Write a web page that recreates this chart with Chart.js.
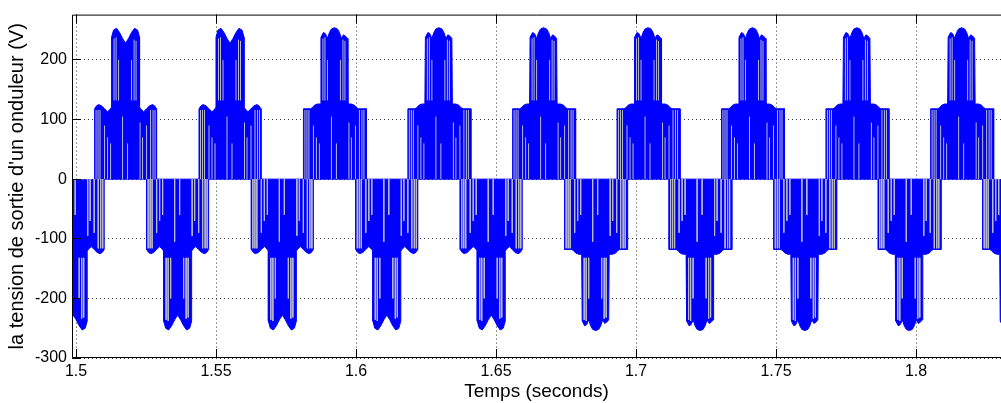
<!DOCTYPE html>
<html lang="fr">
<head>
  <meta charset="UTF-8">
  <title>Tension de sortie d'un onduleur</title>
  <script src="https://cdn.jsdelivr.net/npm/chart.js@4.4.1/dist/chart.umd.min.js"></script>
  <style>
    html, body { margin: 0; padding: 0; background: #fff; }
    canvas { display: block; }
  </style>
</head>
<body>
  <canvas id="chart" width="1001" height="403"></canvas>
  <script>
    const xTicks = [1.5, 1.55, 1.6, 1.65, 1.7, 1.75, 1.8];
    const yTicks = [-300, -200, -100, 0, 100, 200];

    // centre of each pulse group (s)
    const posCentres = [1.5177, 1.5550, 1.5923, 1.6296, 1.6670, 1.7043, 1.7416, 1.7789, 1.8163];
    const negCentres = [1.4990, 1.5363, 1.5737, 1.6110, 1.6483, 1.6856, 1.7229, 1.7603, 1.7976, 1.8349];
    // 1 = two peaks on top of the group, 0 = one peak
    const posTwin = [1, 1, 0, 0, 0, 0, 0, 0, 0];
    const negTwin = [1, 1, 1, 1, 1, 0, 0, 0, 0, 0];

    // outline of one group: ms from its centre -> volts
    const twinMs = [-11.07, -11.07, -10.36, -9.64, -8.57, -7.5, -6.43, -5.36, -5.0, -5.0, -4.29, -3.21, -2.14, -1.07, 0,
                    1.07, 2.14, 3.21, 4.29, 5.0, 5.0, 5.36, 6.43, 7.5, 8.57, 9.64, 10.36, 11.07, 11.07];
    const twinV = [0, 118, 123, 125, 123, 118, 113, 118, 121, 238, 250, 253, 246, 236, 228,
                   236, 246, 253, 250, 238, 121, 118, 113, 118, 123, 125, 123, 118, 0];
    const singleMs = [-11.07, -11.07, -8.57, -7.86, -7.14, -6.07, -5.0, -4.82, -3.93, -3.21, -2.5, -1.79, -1.07, 0,
                      1.07, 1.79, 2.5, 3.21, 3.93, 4.64, 4.82, 6.07, 7.14, 7.86, 8.57, 11.43, 11.43];
    const singleV = [0, 118, 118, 120, 124, 126, 126, 238, 246, 244, 236, 246, 252, 254,
                     252, 246, 236, 242, 240, 236, 126, 126, 124, 120, 118, 118, 0];

    // light lines between pulses: ms from centre, from / to volts
    const gapMs = [-10.54, -9.82, -9.11, -7.5, -6.43, -5.36, -4.11, -3.39, -2.5, -1.07,
                   0.71, 2.14, 3.04, 3.75, 5.18, 6.07, 7.5, 8.93, 9.82, 10.54];
    const gapFrom = [0, 0, 0, 0, 0, 0, 132, 132, 132, 0,
                     0, 132, 132, 132, 0, 0, 0, 0, 0, 0];
    const gapTo = [116, 116, 116, 90, 70, 60, 236, 238, 200, 105,
                   60, 200, 234, 232, 95, 70, 90, 116, 116, 116];

    function groups(centres, twin, sign) {
      const pts = [];
      centres.forEach((c, k) => {
        const ms = twin[k] ? twinMs : singleMs;
        const v = twin[k] ? twinV : singleV;
        ms.forEach((d, i) => pts.push({ x: c + d / 1000, y: sign * v[i] }));
      });
      return pts;
    }

    function gaps(centres, sign) {
      const pts = [];
      centres.forEach(c => {
        gapMs.forEach((d, i) => {
          const t = c + d / 1000;
          pts.push({ x: t, y: sign * gapFrom[i] }, { x: t, y: sign * gapTo[i] }, { x: t, y: null });
        });
      });
      return pts;
    }

    const blue = '#0000ff';
    const gapColor = 'rgb(185,185,200)';
    const font = "'Liberation Sans', Arial, sans-serif";

    const frame = {
      id: 'frame',
      afterDatasetsDraw(chart) {
        const { ctx, chartArea: a, scales: { x, y } } = chart;
        ctx.save();
        ctx.strokeStyle = '#000';
        ctx.lineWidth = 1;
        ctx.beginPath();
        ctx.moveTo(a.right, a.top + 0.5);
        ctx.lineTo(a.left + 0.5, a.top + 0.5);
        ctx.lineTo(a.left + 0.5, a.bottom - 0.5);
        ctx.lineTo(a.right, a.bottom - 0.5);
        xTicks.forEach(v => {
          const px = Math.round(x.getPixelForValue(v) - 0.5) + 0.5;
          ctx.moveTo(px, a.bottom); ctx.lineTo(px, a.bottom - 9);
          ctx.moveTo(px, a.top); ctx.lineTo(px, a.top + 9);
        });
        yTicks.forEach(v => {
          const py = Math.round(y.getPixelForValue(v) - 0.5) + 0.5;
          ctx.moveTo(a.left, py); ctx.lineTo(a.left + 9, py);
        });
        ctx.stroke();
        ctx.restore();
      }
    };

    new Chart(document.getElementById('chart'), {
      type: 'line',
      data: {
        datasets: [
          { data: gaps(posCentres, 1), borderColor: gapColor, borderWidth: 1, fill: false, order: 0 },
          { data: gaps(negCentres, -1), borderColor: gapColor, borderWidth: 1, fill: false, order: 0 },
          { data: groups(posCentres, posTwin, 1), borderColor: blue, backgroundColor: blue, borderWidth: 1, fill: 'origin', order: 1 },
          { data: groups(negCentres, negTwin, -1), borderColor: blue, backgroundColor: blue, borderWidth: 1, fill: 'origin', order: 2 }
        ]
      },
      options: {
        responsive: false,
        animation: false,
        devicePixelRatio: 1,
        spanGaps: false,
        elements: { point: { radius: 0 }, line: { tension: 0 } },
        layout: { autoPadding: false, padding: { top: 10, left: 0, right: 0, bottom: 0 } },
        plugins: { legend: { display: false }, tooltip: { enabled: false } },
        scales: {
          x: {
            type: 'linear',
            min: 1.498571,
            max: 1.830357,
            afterBuildTicks: s => { s.ticks = xTicks.map(v => ({ value: v })); },
            afterFit: s => { s.height = 45; },
            ticks: { autoSkip: false, maxRotation: 0, padding: 4, color: '#000', font: { family: font, size: 16 }, callback: v => String(v) },
            grid: { color: '#333', drawTicks: false },
            border: { display: false, dash: [1, 3] },
            title: { display: true, text: 'Temps (seconds)', color: '#000', font: { family: font, size: 19 }, padding: { top: 0, bottom: 0 } }
          },
          y: {
            type: 'linear',
            min: -300,
            max: 276,
            afterBuildTicks: s => { s.ticks = yTicks.map(v => ({ value: v })); },
            afterFit: s => { s.width = 72; },
            ticks: { padding: 5, color: '#000', font: { family: font, size: 16 }, callback: v => String(v) },
            grid: { color: '#333', drawTicks: false },
            border: { display: false, dash: [1, 3] },
            title: { display: true, text: "la tension de sortie d'un onduleur (V)", color: '#000', font: { family: font, size: 20 }, padding: { top: 5, bottom: 0 } }
          }
        }
      },
      plugins: [frame]
    });
  </script>
</body>
</html>
